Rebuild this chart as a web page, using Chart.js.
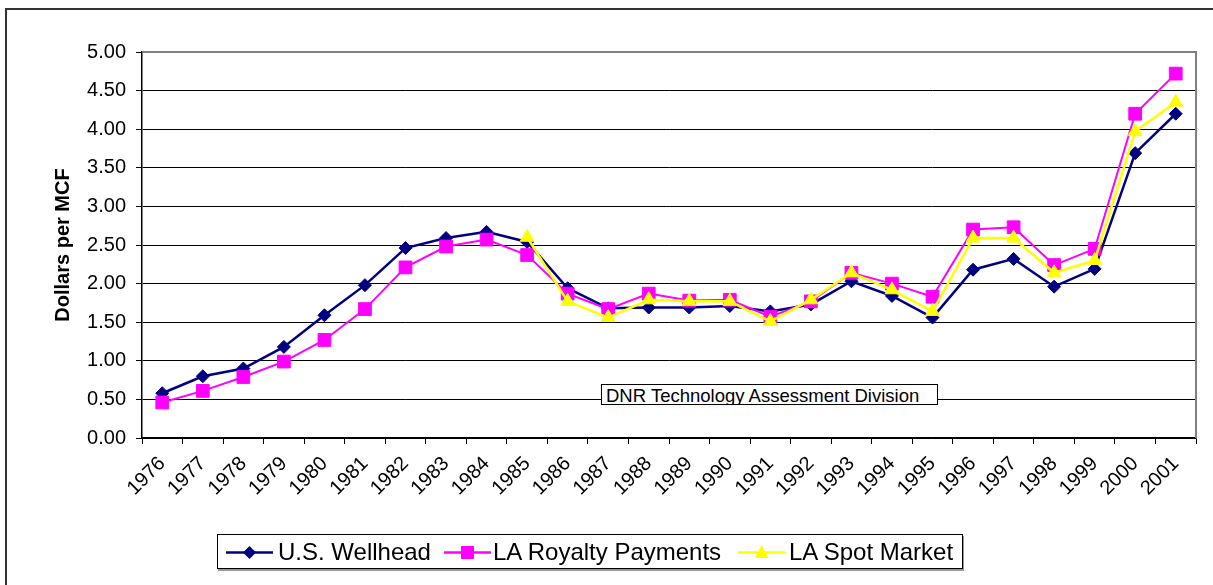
<!DOCTYPE html>
<html>
<head>
<meta charset="utf-8">
<script src="https://cdn.jsdelivr.net/npm/chart.js@4/dist/chart.umd.min.js"></script>
<style>
  html, body { margin: 0; padding: 0; background: #fff; overflow: hidden; }
  #wrap { position: relative; width: 1213px; height: 585px; overflow: hidden; font-family: "Liberation Sans", Arial, sans-serif; }
  #frame { position: absolute; left: 5px; top: 8px; width: 1400px; height: 800px; border: 2px solid #333; box-sizing: border-box; }
  canvas { position: absolute; left: 0; top: 0; }
  #note { position: absolute; left: 601px; top: 384px; width: 337px; height: 21px; border: 1px solid #000; background: #fff;
          font-size: 18.5px; line-height: 20px; padding: 1px 0 0 4px; box-sizing: border-box; overflow: hidden; white-space: nowrap; color: #000; }
  #legend { position: absolute; left: 217px; top: 534px; width: 744px; height: 33px; border: 1px solid #000; background: #fff;
            box-shadow: 1px 2px 0 #999; }
  #legend .sym { position: absolute; top: 5px; }
  #legend .txt { position: absolute; top: 5px; font-size: 24px; line-height: 24px; color: #000; white-space: nowrap; }
</style>
</head>
<body>
<div id="wrap">
  <div id="frame"></div>
  <canvas id="chart" width="1213" height="585"></canvas>
  <div id="note">DNR Technology Assessment Division</div>
  <div id="legend"></div>
</div>
<script>
// Datos (dólares por MCF)
const years = ['1976','1977','1978','1979','1980','1981','1982','1983','1984','1985','1986','1987','1988',
               '1989','1990','1991','1992','1993','1994','1995','1996','1997','1998','1999','2000','2001'];
const wellhead = [0.58,0.80,0.90,1.18,1.59,1.98,2.46,2.59,2.67,2.54,1.94,1.68,1.69,1.69,1.71,1.64,1.73,2.03,1.84,1.56,2.18,2.32,1.96,2.19,3.69,4.20];
const royalty  = [0.46,0.61,0.79,0.99,1.27,1.67,2.21,2.48,2.57,2.37,1.87,1.67,1.87,1.78,1.79,1.57,1.77,2.14,2.00,1.83,2.70,2.73,2.24,2.45,4.20,4.72];
const spot     = [null,null,null,null,null,null,null,null,null,2.60,1.77,1.56,1.79,1.77,1.77,1.51,1.79,2.14,1.92,1.64,2.59,2.59,2.14,2.30,3.97,4.35];
const seriesNames = ['U.S. Wellhead', 'LA Royalty Payments', 'LA Spot Market'];

const FONT = '"Liberation Sans", Arial, sans-serif';

// Borde gris del área de trazado (arriba y derecha)
const plotBorder = {
    id: 'plotBorder',
    afterDatasetsDraw(chart) {
        const { ctx, chartArea: a } = chart;
        ctx.save();
        ctx.strokeStyle = '#808080';
        ctx.lineWidth = 2;
        ctx.beginPath();
        ctx.moveTo(a.left, a.top);
        ctx.lineTo(a.right, a.top);
        ctx.lineTo(a.right, a.bottom);
        ctx.stroke();
        ctx.restore();
    }
};

new Chart(document.getElementById('chart'), {
    type: 'line',
    data: {
        labels: years,
        datasets: [
            { label: seriesNames[0], data: wellhead, borderColor: '#000080', backgroundColor: '#000080',
              borderWidth: 2.5, pointStyle: 'rectRot', pointRadius: 6.5, pointBorderWidth: 1, order: 2 },
            { label: seriesNames[1], data: royalty, borderColor: '#FF00FF', backgroundColor: '#FF00FF',
              borderWidth: 2, pointStyle: 'rect', pointRadius: 9, pointBorderWidth: 1, order: 1 },
            { label: seriesNames[2], data: spot, borderColor: '#FFFF00', backgroundColor: '#FFFF00',
              borderWidth: 2.5, pointStyle: 'triangle', pointRadius: 8, pointBorderWidth: 1, order: 0 }
        ]
    },
    options: {
        responsive: false,
        animation: false,
        layout: { padding: { left: 47, top: 52, right: 17, bottom: 0 } },
        plugins: { legend: { display: false }, tooltip: { enabled: false } },
        elements: { line: { tension: 0 } },
        scales: {
            x: {
                type: 'category',
                offset: true,
                afterFit: s => { s.height = 147; },
                grid: { offset: true, drawOnChartArea: false, drawTicks: true, tickLength: 6, color: '#000' },
                border: { color: '#000', width: 1.5 },
                ticks: { autoSkip: false, minRotation: 45, maxRotation: 45, padding: 8, color: '#000',
                         font: { family: FONT, size: 20 } }
            },
            y: {
                min: 0,
                max: 5,
                afterFit: s => { s.width = 95; },
                grid: { color: c => (c.tick && c.tick.value === 5 ? '#808080' : '#000'), tickColor: '#000',
                        tickLength: 6, lineWidth: 1 },
                border: { color: '#000', width: 1.5 },
                ticks: { stepSize: 0.5, padding: 10, color: '#000', font: { family: FONT, size: 20 },
                         callback: v => Number(v).toFixed(2) },
                title: { display: true, text: 'Dollars per MCF', color: '#000', padding: { top: 4, bottom: 0 },
                         font: { family: FONT, size: 20, weight: 'bold' } }
            }
        }
    },
    plugins: [plotBorder]
});

// Leyenda en HTML con caja
const legendItems = [
    { name: seriesNames[0], color: '#000080', shape: 'diamond', sym: 8, txt: 60 },
    { name: seriesNames[1], color: '#FF00FF', shape: 'square', sym: 226, txt: 275 },
    { name: seriesNames[2], color: '#FFFF00', shape: 'triangle', sym: 520, txt: 571 }
];
function symbolSvg(item) {
    let mark = '';
    if (item.shape === 'diamond') mark = `<polygon points="23.5,11 30,17.5 23.5,24 17,17.5" fill="${item.color}"/>`;
    if (item.shape === 'square') mark = `<rect x="17" y="11" width="13" height="13" fill="${item.color}"/>`;
    if (item.shape === 'triangle') mark = `<polygon points="23.5,10 30.5,23 16.5,23" fill="${item.color}"/>`;
    return `<svg width="47" height="28" viewBox="0 0 47 28"><line x1="0" y1="17.5" x2="47" y2="17.5" stroke="${item.color}" stroke-width="2.5"/>${mark}</svg>`;
}
document.getElementById('legend').innerHTML = legendItems.map(item =>
    `<div class="sym" style="left:${item.sym}px;top:0px">${symbolSvg(item)}</div>` +
    `<div class="txt" style="left:${item.txt}px">${item.name}</div>`
).join('');
</script>
</body>
</html>
